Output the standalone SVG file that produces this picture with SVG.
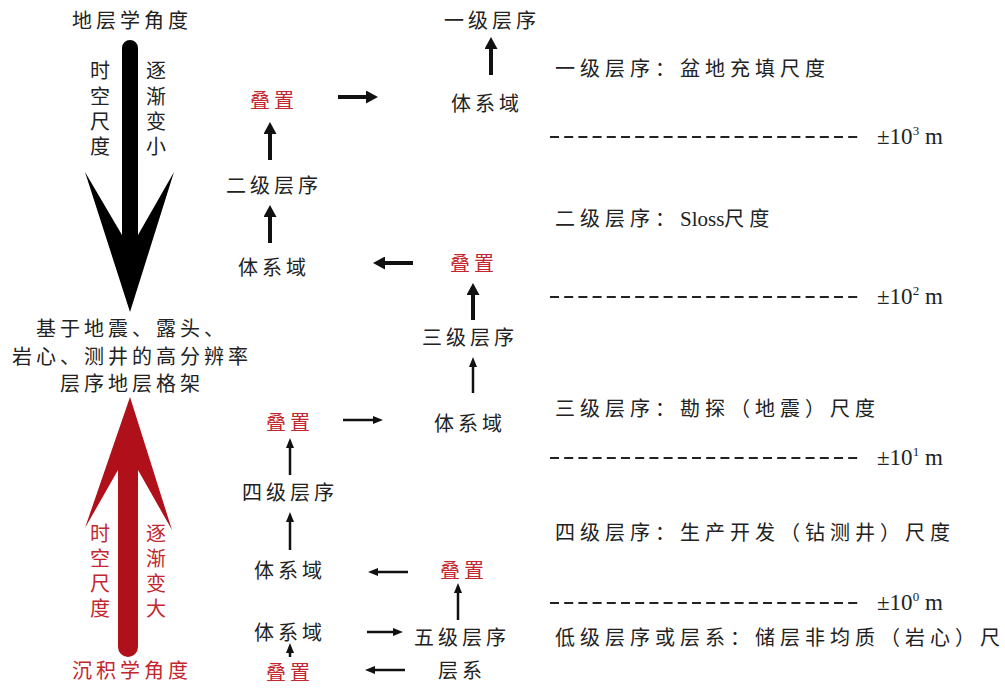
<svg xmlns="http://www.w3.org/2000/svg" width="1005" height="690" viewBox="0 0 1005 690">
<style>
text{font-family:"Liberation Serif","Noto Sans CJK SC",serif;font-size:20px;letter-spacing:4px;fill:#222}
.c{text-anchor:middle}
.r{fill:#c3262e}
.v{font-size:20px;letter-spacing:0}
.s{letter-spacing:5px}
.lat{letter-spacing:0;font-size:21px}
.m{font-family:"Liberation Serif",serif;font-size:23px;letter-spacing:0}
.k{stroke:#111;stroke-width:4;fill:none}
.t{stroke:#111;stroke-width:2.5;fill:none}
.d{stroke:#222;stroke-width:2;stroke-dasharray:9 5.2;fill:none}
</style>
<defs>
<marker id="ah" markerUnits="userSpaceOnUse" markerWidth="12" markerHeight="13" refX="2" refY="6.5" orient="auto"><path d="M0,0 L12,6.5 L0,13 z" fill="#111"/></marker>
<marker id="as" markerUnits="userSpaceOnUse" markerWidth="10" markerHeight="8" refX="2" refY="4" orient="auto"><path d="M0,0 L10,4 L0,8 z" fill="#111"/></marker>
</defs>
<rect width="1005" height="690" fill="#fff"/>

<g id="left-axis">
<text class="c" x="132" y="28">地层学角度</text>
<path d="M122,48 A8,8 0 0 1 138,48 L138,235 L174,172 L130,312 L85,172 L122,235 Z" fill="#000"/>
<text class="c v" x="100" y="78">时</text><text class="c v" x="100" y="104">空</text><text class="c v" x="100" y="129">尺</text><text class="c v" x="100" y="154">度</text>
<text class="c v" x="156" y="78">逐</text><text class="c v" x="156" y="104">渐</text><text class="c v" x="156" y="129">变</text><text class="c v" x="156" y="154">小</text>
<text class="c" x="132" y="336">基于地震、露头、</text>
<text class="c" x="132" y="364">岩心、测井的高分辨率</text>
<text class="c" x="132" y="391">层序地层格架</text>
<path d="M130,397 L172,530 L138,470 L138,647 A10,10 0 0 1 118,647 L118,470 L85,528 Z" fill="#b0101a"/>
<text class="c v r" x="100" y="541">时</text><text class="c v r" x="100" y="566">空</text><text class="c v r" x="100" y="591">尺</text><text class="c v r" x="100" y="616">度</text>
<text class="c v r" x="156" y="541">逐</text><text class="c v r" x="156" y="566">渐</text><text class="c v r" x="156" y="591">变</text><text class="c v r" x="156" y="616">大</text>
<text class="c r" x="132" y="678">沉积学角度</text>
</g>

<g id="n-seq1"><text class="c" x="492" y="28">一级层序</text></g>
<g id="n-sys1"><text class="c" x="487" y="111">体系域</text></g>
<g id="n-stack1"><text class="c r" x="274" y="108">叠置</text></g>
<g id="n-seq2"><text class="c" x="274" y="193">二级层序</text></g>
<g id="n-sys2"><text class="c" x="274" y="275">体系域</text></g>
<g id="n-stack2"><text class="c r" x="474" y="271">叠置</text></g>
<g id="n-seq3"><text class="c" x="470" y="345">三级层序</text></g>
<g id="n-sys3"><text class="c" x="470" y="431">体系域</text></g>
<g id="n-stack3"><text class="c r" x="290" y="430">叠置</text></g>
<g id="n-seq4"><text class="c" x="290" y="500">四级层序</text></g>
<g id="n-sys4"><text class="c" x="290" y="578">体系域</text></g>
<g id="n-stack4"><text class="c r" x="464" y="578">叠置</text></g>
<g id="n-sys5"><text class="c" x="290" y="640">体系域</text></g>
<g id="n-seq5"><text class="c" x="462" y="645">五级层序</text></g>
<g id="n-stack5"><text class="c r" x="290" y="680">叠置</text></g>
<g id="n-bedset"><text class="c" x="462" y="678">层系</text></g>

<g id="connectors">
<line class="k" x1="491" y1="75" x2="491" y2="47" marker-end="url(#ah)"/>
<line class="k" x1="338" y1="97" x2="368" y2="97" marker-end="url(#ah)"/>
<line class="k" x1="270" y1="160" x2="270" y2="132" marker-end="url(#ah)"/>
<line class="k" x1="270" y1="243" x2="270" y2="215" marker-end="url(#ah)"/>
<line class="k" x1="413" y1="263" x2="383" y2="263" marker-end="url(#ah)"/>
<line class="k" x1="473" y1="320" x2="473" y2="293" marker-end="url(#ah)"/>
<line class="t" x1="473" y1="393" x2="473" y2="365" marker-end="url(#as)"/>
<line class="t" x1="343" y1="420" x2="375" y2="420" marker-end="url(#as)"/>
<line class="t" x1="290" y1="475" x2="290" y2="446" marker-end="url(#as)"/>
<line class="t" x1="290" y1="550" x2="290" y2="520" marker-end="url(#as)"/>
<line class="t" x1="408" y1="572" x2="376" y2="572" marker-end="url(#as)"/>
<line class="t" x1="458" y1="620" x2="458" y2="591" marker-end="url(#as)"/>
<line class="t" x1="367" y1="632" x2="395" y2="632" marker-end="url(#as)"/>
<line class="t" x1="290" y1="657" x2="290" y2="651" marker-end="url(#as)"/>
<line class="t" x1="405" y1="670" x2="373" y2="670" marker-end="url(#as)"/>
</g>

<g id="scale">
<text class="s" x="555" y="76">一级层序：盆地充填尺度</text>
<line class="d" x1="550" y1="137" x2="862" y2="137"/>
<text class="m" x="877" y="144">±10<tspan font-size="13" dy="-9">3</tspan><tspan dy="9"> m</tspan></text>
<text class="s" x="555" y="226">二级层序：<tspan class="lat">Sloss</tspan>尺度</text>
<line class="d" x1="550" y1="297" x2="862" y2="297"/>
<text class="m" x="877" y="304">±10<tspan font-size="13" dy="-9">2</tspan><tspan dy="9"> m</tspan></text>
<text class="s" x="555" y="416">三级层序：勘探（地震）尺度</text>
<line class="d" x1="550" y1="458" x2="862" y2="458"/>
<text class="m" x="877" y="465">±10<tspan font-size="13" dy="-9">1</tspan><tspan dy="9"> m</tspan></text>
<text class="s" x="555" y="540">四级层序：生产开发（钻测井）尺度</text>
<line class="d" x1="550" y1="603" x2="862" y2="603"/>
<text class="m" x="877" y="610">±10<tspan font-size="13" dy="-9">0</tspan><tspan dy="9"> m</tspan></text>
<text class="s" x="555" y="645">低级层序或层系：储层非均质（岩心）尺度</text>
</g>
</svg>
